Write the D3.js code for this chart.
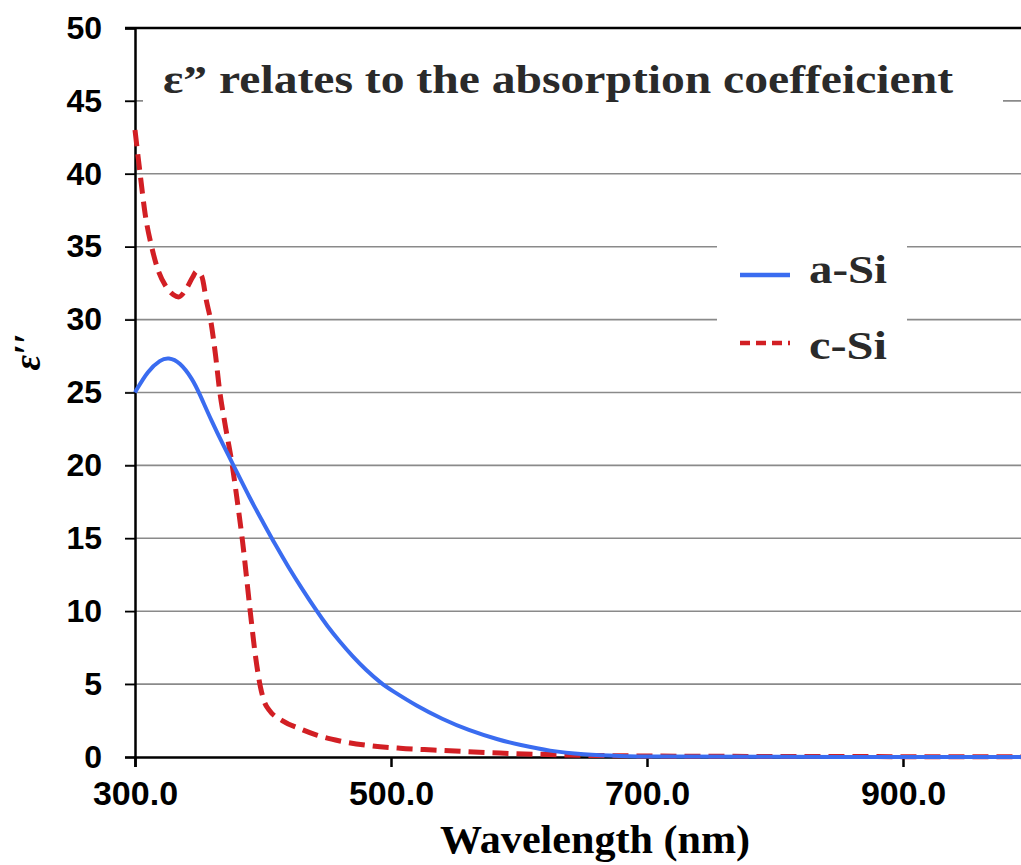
<!DOCTYPE html>
<html>
<head>
<meta charset="utf-8">
<script src="https://cdn.jsdelivr.net/npm/d3@7/dist/d3.min.js"></script>
<style>
  html, body { margin: 0; padding: 0; background: #fff; }
  svg { display: block; }
</style>
</head>
<body>
<svg id="chart" width="1021" height="865"></svg>
<script>
// ---- data ----
const aSiWavelength = [300, 310, 320, 326, 335, 345, 350, 360, 370, 377, 390, 400, 410, 420, 430, 442, 450, 460, 470, 480, 493, 500, 520, 540, 560, 585, 600, 624, 650, 680, 700, 800, 900, 1000];
const aSiValues     = [25.0, 26.5, 27.25, 27.4, 27.1, 25.9, 25.0, 23.0, 21.2, 20.0, 17.7, 16.1, 14.5, 13.0, 11.6, 10.0, 9.0, 7.9, 6.9, 6.0, 5.0, 4.6, 3.5, 2.6, 1.85, 1.15, 0.85, 0.4, 0.17, 0.06, 0.03, 0.01, 0.0, 0.0];

const cSiWavelength = [300, 304, 308, 313, 318, 324, 330, 334, 340, 345, 348, 352, 356, 359, 363, 366, 370, 376, 380, 384, 390, 394, 398, 401, 405, 415, 430, 442, 460, 481, 507, 533, 585, 663, 750, 850, 1000];
const cSiValues     = [43.0, 40.0, 37.2, 35.0, 33.4, 32.3, 31.7, 31.55, 32.1, 32.9, 33.3, 33.0, 31.2, 30.0, 27.5, 25.2, 23.0, 20.0, 17.5, 14.8, 10.0, 7.0, 4.8, 3.8, 3.2, 2.5, 1.9, 1.5, 1.1, 0.8, 0.6, 0.48, 0.27, 0.1, 0.05, 0.03, 0.02];

const yTicks = [0, 5, 10, 15, 20, 25, 30, 35, 40, 45, 50];
const xTicks = [300, 500, 700, 900];
const seriesNames = ["a-Si", "c-Si"];
const titleText = "ε\u201D relates to the absorption coeffeicient";
const xTitle = "Wavelength (nm)";
const yTitle = "ε\u2032\u2032";

// ---- layout ----
const svg = d3.select("#chart");
const mLeft = 135, mRight = 1031, mTop = 28, mBottom = 757;
const x = d3.scaleLinear().domain([300, 1000]).range([mLeft, mRight]);
const y = d3.scaleLinear().domain([0, 50]).range([mBottom, mTop]);

const blue = "#3a6cf0";
const red = "#d21f24";
const serif = "Liberation Serif, Times New Roman, serif";
const sans = "Liberation Sans, Arial, sans-serif";

// gridlines (extend left as ticks)
svg.append("g").selectAll("line").data(yTicks.filter(d => d > 0 && d < 50)).join("line")
  .attr("x1", mLeft - 10).attr("x2", 1021)
  .attr("y1", d => y(d)).attr("y2", d => y(d))
  .attr("stroke", "#8a8a8a").attr("stroke-width", 1.6);

// top frame line
svg.append("line").attr("x1", mLeft - 10).attr("x2", 1021).attr("y1", y(50)).attr("y2", y(50))
  .attr("stroke", "#000").attr("stroke-width", 2.5);

// title box (white, hides gridline)
svg.append("rect").attr("x", 143).attr("y", 48).attr("width", 860).attr("height", 70).attr("fill", "#fff");
// legend box
svg.append("rect").attr("x", 717).attr("y", 232).attr("width", 190).attr("height", 150).attr("fill", "#fff");

// y axis
const yAxis = d3.axisLeft(y).tickValues(yTicks).tickSize(10).tickFormat(d3.format("d"));
const gy = svg.append("g").attr("transform", `translate(${mLeft},0)`).call(yAxis);
gy.select(".domain").attr("stroke", "#000").attr("stroke-width", 2.5);
gy.selectAll(".tick line").attr("stroke", "#000").attr("stroke-width", 1.6);
gy.selectAll(".tick text").attr("x", -33).attr("font-family", sans)
  .attr("font-weight", "bold").attr("font-size", 32).attr("fill", "#000");

// x axis
const xAxis = d3.axisBottom(x).tickValues(xTicks).tickSize(10).tickFormat(d3.format(".1f"));
const gx = svg.append("g").attr("transform", `translate(0,${mBottom})`).call(xAxis);
gx.select(".domain").attr("stroke", "#000").attr("stroke-width", 2.5);
gx.selectAll(".tick line").attr("stroke", "#000").attr("stroke-width", 2.5);
gx.selectAll(".tick text").attr("y", 24).attr("font-family", sans)
  .attr("font-weight", "bold").attr("font-size", 34).attr("fill", "#000");

// lines
const lineRed = d3.line().x(d => x(d[0])).y(d => y(d[1])).curve(d3.curveMonotoneX);
const lineBlue = d3.line().x(d => x(d[0])).y(d => y(d[1])).curve(d3.curveBasis);
const plot = svg.append("g");
plot.append("path").datum(d3.zip(cSiWavelength, cSiValues)).attr("d", lineRed)
  .attr("fill", "none").attr("stroke", red).attr("stroke-width", 5)
  .attr("stroke-dasharray", "16,8");
plot.append("path").datum(d3.zip(aSiWavelength, aSiValues)).attr("d", lineBlue)
  .attr("fill", "none").attr("stroke", blue).attr("stroke-width", 4);

// title
svg.append("text").attr("x", 163).attr("y", 93).text(titleText)
  .attr("font-family", serif).attr("font-weight", "bold")
  .attr("font-size", 40).attr("fill", "#2a2a2a")
  .attr("textLength", 790).attr("lengthAdjust", "spacingAndGlyphs");

// legend
const legend = svg.append("g");
[[blue, null, 275, 283], [red, "10,6", 343, 359]].forEach((s, i) => {
  legend.append("line").attr("x1", 740).attr("x2", 790).attr("y1", s[2]).attr("y2", s[2])
    .attr("stroke", s[0]).attr("stroke-width", 4.5).attr("stroke-dasharray", s[1]);
  legend.append("text").attr("x", 809).attr("y", s[3]).text(seriesNames[i])
    .attr("font-family", serif).attr("font-weight", "bold")
    .attr("font-size", 40).attr("fill", "#2a2a2a")
    .attr("textLength", 78).attr("lengthAdjust", "spacingAndGlyphs");
});

// axis titles
svg.append("text").attr("x", 440).attr("y", 853).text(xTitle)
  .attr("font-family", serif).attr("font-weight", "bold")
  .attr("font-size", 40).attr("fill", "#000")
  .attr("textLength", 310).attr("lengthAdjust", "spacingAndGlyphs");
svg.append("text").attr("transform", "translate(40,352) rotate(-90)").attr("text-anchor", "middle").text(yTitle)
  .attr("font-family", serif).attr("font-weight", "bold")
  .attr("font-style", "italic").attr("font-size", 38).attr("fill", "#000");
</script>
</body>
</html>
